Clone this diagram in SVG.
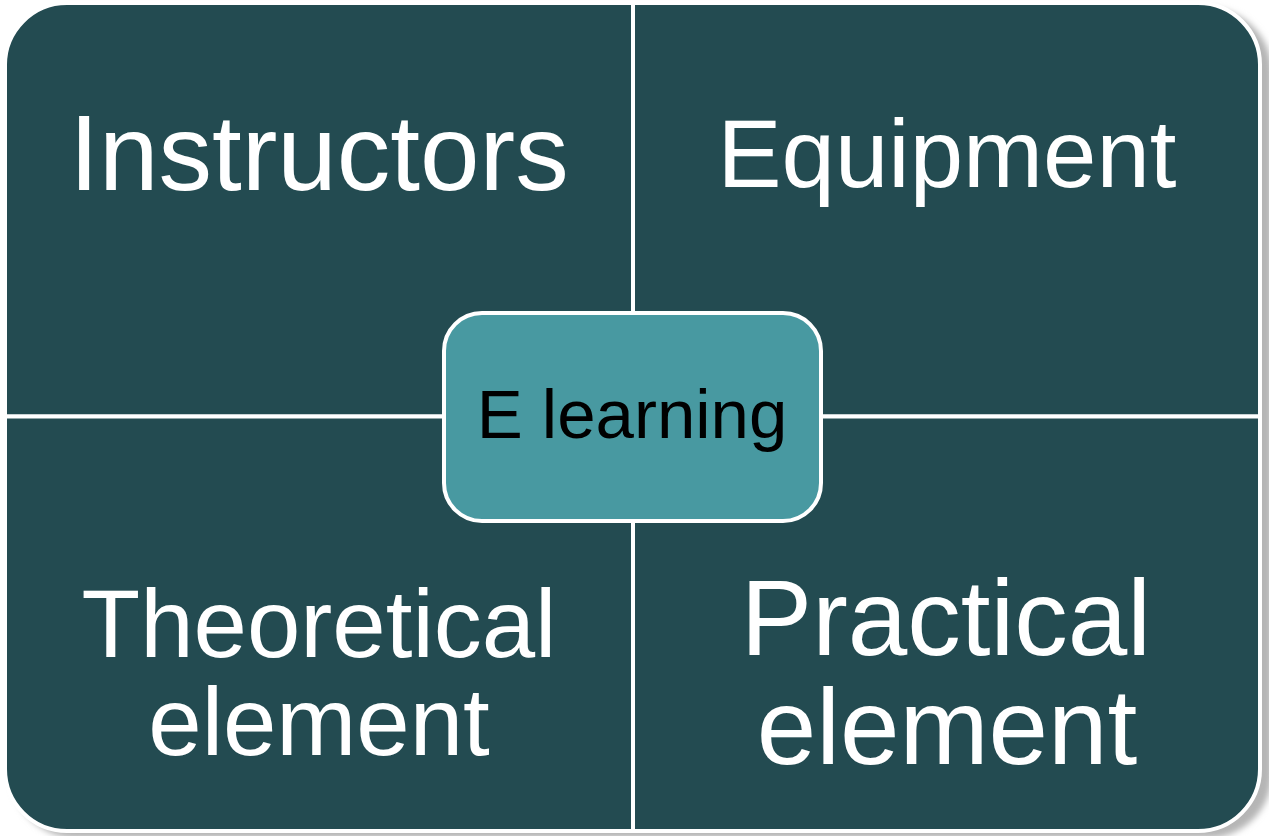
<svg xmlns="http://www.w3.org/2000/svg" width="1269" height="836" viewBox="0 0 1269 836">
<defs>
<filter id="blur" x="-5%" y="-5%" width="110%" height="110%"><feGaussianBlur stdDeviation="3"/></filter>
<style>
.q{fill:#234b51;stroke:#ffffff;stroke-width:4}
.c{fill:#4899a1;stroke:#ffffff;stroke-width:4}
.t{font-family:"Liberation Sans",Arial,sans-serif;fill:#ffffff;text-anchor:middle}
.ct{font-family:"Liberation Sans",Arial,sans-serif;fill:#000000;text-anchor:middle;font-size:69px}
</style>
</defs>
<rect width="1269" height="836" fill="#ffffff"/>
<rect x="12" y="8" width="1260" height="830" rx="64" fill="#b5b5b5" filter="url(#blur)"/>
<g id="quad-instructors">
<path class="q" d="M5,66 A62,62 0 0 1 67,3 L633,3 L633,416.5 L5,416.5 Z"/>
<text class="t" x="319" y="190" font-size="107">Instructors</text>
</g>
<g id="quad-equipment">
<path class="q" d="M633,3 L1198,3 A62,62 0 0 1 1260,66 L1260,416.5 L633,416.5 Z"/>
<text class="t" x="947" y="187" font-size="96">Equipment</text>
</g>
<g id="quad-theoretical">
<path class="q" d="M5,416.5 L633,416.5 L633,831 L67,831 A62,62 0 0 1 5,769 Z"/>
<text class="t" x="319" y="657" font-size="96">Theoretical</text>
<text class="t" x="319" y="755" font-size="96">element</text>
</g>
<g id="quad-practical">
<path class="q" d="M633,416.5 L1260,416.5 L1260,769 A62,62 0 0 1 1198,831 L633,831 Z"/>
<text class="t" x="946" y="655" font-size="107">Practical</text>
<text class="t" x="947" y="764" font-size="107">element</text>
</g>
<g id="connectors"></g>
<g id="center-elearning">
<rect class="c" x="444" y="313" width="377" height="208" rx="38"/>
<text class="ct" x="632" y="438">E learning</text>
</g>
</svg>
